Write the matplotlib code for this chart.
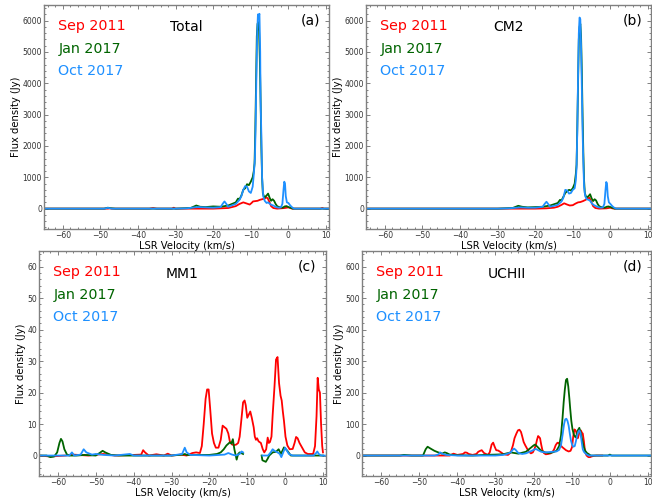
import numpy as np
import matplotlib
matplotlib.use("Agg")
import matplotlib.pyplot as plt
from matplotlib.ticker import MultipleLocator, AutoMinorLocator

# etiquetas de las epocas y colores
epochs = ["Sep 2011", "Jan 2017", "Oct 2017"]
colors = ["red", "darkgreen", "dodgerblue"]
panel_names = ["Total", "CM2", "MM1", "UCHII"]
panel_tags = ["(a)", "(b)", "(c)", "(d)"]

# ---- (a) Total ----
tot_sep_v = [-65, -48, -47.5, -47, -37, -36, -35, -31, -30.5, -30, -20, -18, -16, -14, -13, -12, -11,
             -10.3, -9.8, -9.4, -8.8, -8.2, -7.6, -7.0, -6.3, -5.9, -5.5, -5.0, -4.6, -4, -3, -1, 0,
             0.5, 1, 8.5, 9, 9.5, 11]
tot_sep_f = [0, 0, 10, 0, 0, 20, 0, 0, 30, 0, 0, 10, 20, 80, 150, 200, 160,
             130, 180, 230, 240, 250, 280, 300, 320, 360, 330, 200, 80, 20, 0, 20, 40,
             20, 0, 0, 20, 0, 0]
tot_jan_v = [-65, -49, -48, -47.5, -46, -30, -26, -24.5, -23.5, -22, -20, -18, -17, -16, -15, -14,
             -13.4, -13, -12.5, -12, -11.5, -11, -10.5, -10, -9.5, -9.2, -9.0, -8.8, -8.6, -8.4,
             -8.2, -8.0, -7.8, -7.6, -7.4, -7.2, -7.0, -6.8, -6.4, -5.8, -5.4, -5.0, -4.6, -4.2,
             -3.8, -3.4, -3, -2.5, -1.5, -1, -0.5, 0, 0.5, 1.2, 11]
tot_jan_f = [0, 0, 30, 15, 0, 0, 20, 100, 60, 50, 70, 60, 80, 100, 150, 200,
             320, 300, 420, 600, 650, 780, 750, 860, 1000, 1200, 1450, 2500, 4000, 5500,
             5900, 5950, 5700, 4800, 3500, 2000, 1000, 500, 350, 420, 480, 350, 250, 300,
             250, 150, 80, 50, 30, 70, 80, 50, 30, 0, 0]
tot_oct_v = [-65, -49, -48, -47, -30, -27, -25, -24, -22, -20, -18, -17.5, -17, -16.5, -16, -14,
             -13, -12.5, -12, -11.5, -11, -10.5, -10, -9.5, -9.2, -8.9, -8.7, -8.5, -8.3, -8.1,
             -7.9, -7.7, -7.5, -7.4, -7.2, -7.0, -6.7, -6.3, -5.8, -5.4, -5, -4.5, -4, -3.5, -3,
             -2.5, -2, -1.6, -1.3, -1.1, -0.9, -0.7, -0.4, 0, 0.5, 1, 1.5, 11]
tot_oct_f = [0, 0, 25, 0, 0, 10, 40, 50, 40, 30, 50, 150, 230, 150, 60, 150,
             280, 400, 600, 720, 700, 550, 500, 700, 1100, 1600, 2800, 4300, 5600, 6200,
             6150, 6220, 5000, 3500, 2400, 1000, 400, 250, 180, 200, 160, 120, 100, 60, 40,
             30, 40, 150, 600, 860, 800, 400, 200, 180, 100, 40, 0, 0]

# ---- (b) CM2 ----
cm2_sep_v = [-65, -20, -17, -15, -14, -13, -12.3, -11.5, -10.8, -10, -9.3, -8.6, -8, -7.3, -6.6,
             -6.0, -5.6, -5.2, -4.6, -4, -3, -1, 0, 0.5, 1, 11]
cm2_sep_f = [0, 0, 10, 30, 60, 120, 170, 130, 100, 110, 160, 200, 210, 240, 280,
             330, 350, 250, 80, 20, 0, 10, 30, 10, 0, 0]
cm2_jan_v = [-65, -30, -26, -24.5, -23.5, -22, -20, -18, -16, -14, -13.4, -13, -12.5, -12, -11.5,
             -11, -10.5, -10, -9.5, -9.2, -9.0, -8.8, -8.6, -8.4, -8.2, -8.0, -7.8, -7.6, -7.4,
             -7.2, -7.0, -6.8, -6.4, -5.8, -5.4, -5.0, -4.6, -4.2, -3.8, -3.4, -3, -2.5, -1.5,
             -1, -0.5, 0, 0.5, 1.2, 11]
cm2_jan_f = [0, 0, 20, 90, 60, 40, 50, 60, 100, 180, 280, 260, 380, 500, 560,
             600, 580, 650, 800, 1100, 1400, 2600, 4000, 5400, 5800, 5900, 5500, 4400, 3000,
             1800, 900, 500, 350, 400, 460, 330, 240, 300, 260, 150, 80, 50, 30,
             60, 70, 50, 30, 0, 0]
cm2_oct_v = [-65, -30, -27, -25, -24, -22, -20, -18, -17.5, -17, -16.5, -16, -14, -13, -12.5, -12,
             -11.5, -11, -10.5, -10, -9.5, -9.2, -9.0, -8.8, -8.6, -8.4, -8.2, -8.0, -7.8, -7.6,
             -7.4, -7.2, -7.0, -6.7, -6.3, -5.8, -5.4, -5, -4.5, -4, -3.5, -3, -2.5, -2, -1.6,
             -1.3, -1.1, -0.9, -0.7, -0.4, 0, 0.5, 1, 1.5, 11]
cm2_oct_f = [0, 0, 10, 30, 40, 30, 30, 60, 150, 220, 140, 60, 120, 230, 350, 600,
             580, 480, 500, 600, 650, 900, 1300, 2500, 4200, 5600, 6100, 6050, 5200, 3900,
             2500, 1500, 700, 400, 300, 280, 250, 180, 120, 90, 60, 40, 30, 40, 150,
             600, 850, 800, 400, 200, 150, 80, 30, 0, 0]

# ---- (c) MM1 ----  (nan = huecos sin datos)
mm1_sep_v = [-65, -62, -58, -56, -52, -48, -45, -40, -38, -37.5, -37, -36, -34, -32, -31, -30,
             -27.5, -26, -24.5, -23.5, -22.5, -22, -21.5, -21, -20.6, -20.2, -19.8, -19.3, -18.8,
             -18.3, -17.6, -17, -16.5, -16, -15.5, -15, -14.6, -14, -13.5, -12.9, -12.4, -12,
             -11.5, -11.1, -10.7, -10.4, -10, -9.6, -9.2, -8.8, -8.3, -8, -7.7, -7.4, -7, -6.4,
             -5.9, -5.5, -5, -4.6, -4.3, -4, -3.6, -3.3, -2.8, -2.4, -2.0, -1.6, -1.2, -0.9,
             -0.6, -0.3, 0.1, 0.6, 1.2, 2, 2.5, 2.9, 3.3, 3.8, 4.5, 5.2, 6, 7.4, 7.9, 8.3, 8.6,
             8.9, 9.2, 9.5, 9.8, 10]
mm1_sep_f = [0, -0.3, 0, 0.3, 0, 0.5, 0, 0.2, 0.3, 1.7, 1, 0, 0.4, 0, 0.6, 0,
             0.3, 0, 0.8, 1, 0.8, 3, 10, 18, 21, 21, 15, 7, 4,
             2.5, 2.5, 5, 9.5, 9, 8.5, 7, 4.5, 3.5, 3.3, 3.5, 4, 6,
             12, 16.9, 17.5, 16, 12, 13, 14, 12, 9, 6, 5, 5.5, 4.5, 4,
             2, 1, 2, 5.7, 4, 4.3, 6, 12.6, 22, 30.5, 31.3, 23, 19, 17.5,
             14, 11, 6, 3.2, 2, 2.1, 4, 5.9, 5.5, 4, 2.5, 1, 0.5, 0.5, 3, 12.5, 24.7,
             21, 20, 10, 3, 1]
mm1_jan_v = [-65, -63, -62, -61, -60.2, -59.6, -59.2, -58.8, -58.3, -57.6, -57, -55, -53, -50,
             -49, -48.2, -47.5, -46, -44, -30, -27, -26.5, -26, -20, -18, -17, -16.2, -15.5,
             -14.6, -14.2, -13.8, -13.4, -12.8, -12.4, -12.0, -11.1, np.nan, -6.2, -6.0, -5.1,
             -4.6, -4.2, -3.3, -2.4, -1.7, -1.1, -0.3, 0.2, 0.6, 1.5, 10]
mm1_jan_f = [0, 0, -0.5, -0.3, 1, 4, 5.3, 4.5, 2, 0.3, 0, 0, 0.2, 0,
             0.8, 1.5, 1, 0.2, 0, 0, 0.3, 0.5, 0.2, 0.2, 0.5, 1, 2, 3.2,
             4.2, 3.8, 5.2, 2, -1.3, 0.5, 1, 0.5, np.nan, 0, -1.5, -2,
             -1, 0, 1, 1.2, 2, 0.5, 2.6, 2, 1.5, 0, 0]
mm1_oct_v = [-65, -57, -56.3, -55.7, -54, -53.2, -52.5, -51, -50, -48, -45, -41, -40, -30, -27.2,
             -26.5, -26, -25, -20, -16, -15, -14, -13, -12, -11.5, -11.1, np.nan, -6.0, -4.5,
             -3.8, -3.3, -2.8, -2, -1.4, -1, -0.5, 0, 0.5, 1, 2, 7.5, 8.2, 8.5, 8.9, 9.5, 10.5]
mm1_oct_f = [0, 0, 1, 0, 0.3, 2, 1, 0.3, 0.5, 0.2, 0, 0.5, 0, 0, 0.5,
             2.5, 1, 0.2, 0, 0.3, 0.8, 0.3, 0, 0.5, 1.3, 1, np.nan, 0, 0,
             1, 2, 1.5, 1, 0.5, -0.5, 1, 2.5, 1.5, 0.5, 0, 0, 0.8, 1.3, 0.5, 0, 0]

# ---- (d) UCHII ----
uch_sep_v = [-65, -42, -41, -40.5, -40, -38.5, -38, -37.5, -37, -36, -35, -34.5, -34, -33.6, -33,
             -32, -31.5, -31, -30.6, -30.2, -29.8, -29.3, -28.9, -28.4, -28, -27.3, -26.7, -26,
             -25.4, -25, -24.5, -24.1, -23.7, -23.3, -23, -22.6, -22.2, -21.7, -21.2, -20.7,
             -20.2, -19.8, -19.4, -19.1, -18.8, -18.5, -18.3, -18, -17.7, -17.3, -16.8, -16.2,
             -15.5, -15, -14.6, -14.2, -13.8, -13.6, -13.2, -12.9, -12.5, -12.0, -11.5, -10.8,
             -10.3, -9.9, -9.6, -9.3, -9.0, -8.8, -8.6, -8.4, -8.1, -7.8, -7.6, -7.3, -7.1, -6.8,
             -6.5, -6.1, -5.6, -5.2, -4.8, -4.2, -3.5, -2]
uch_sep_f = [0, 0, 6, 4, 2, 5, 10, 9, 5, 2, 5, 12, 15, 17, 8,
             2, 10, 35, 41, 28, 17, 16, 13, 9, 5, 3, 2, 10,
             33, 55, 70, 80, 82, 75, 62, 43, 33, 22, 12, 7,
             10, 20, 34, 50, 62, 58, 55, 35, 18, 8, 4, 5,
             7, 12, 20, 33, 40, 41, 38, 33, 27, 22, 17, 13,
             15, 27, 60, 83, 80, 75, 62, 55, 68, 78, 80, 72, 70, 45,
             12, 0, -5, -5, -3, -1, 0, 0]
uch_jan_v = [-65, -55, -54, -52, -49, -48.3, -47.8, -47, -46, -45, -44, -43.3, -42.8, -42, -40, -36,
             -33, -30, -28, -27, -26, -25, -24, -22, -21, -20, -19.6, -19, -18, -17, -16, -15,
             -14, -13.3, -12.8, -12.4, -12.1, -11.8, -11.5, -11.2, -10.9, -10.6, -10.4, -10.1,
             -9.8, -9.4, -9.0, -8.7, -8.4, -8.0, -7.7, -7.3, -6.9, -6.5, -6, -5.6, -5, -0.5, 0,
             0.5, 11]
uch_jan_f = [0, 0, 2, 0, 0, 20, 28, 22, 15, 10, 6, 10, 8, 3, 1, 0,
             2, 3, 4, 7, 10, 8, 6, 12, 22, 32, 35, 28, 15, 10, 8, 10,
             15, 30, 64, 120, 170, 210, 240, 244, 220, 180, 150, 110,
             84, 65, 58, 65, 80, 88, 75, 53, 30, 16, 8, 5, 0, 0, 3,
             0, 0]
uch_oct_v = [-65, -46, -45, -44.5, -44, -43, -40, -30, -28, -27, -26, -25.5, -25.1, -24.7, -24,
             -23, -22, -21, -20, -19.4, -18.8, -18, -17, -16, -15, -14, -13.3, -12.8, -12.4,
             -12.0, -11.7, -11.4, -11.1, -10.8, -10.5, -10.2, -9.9, -9.6, -9.2, -8.9, -8.6, -8.3,
             -8.0, -7.7, -7.4, -7.1, -6.8, -6.5, -6, -5.5, 11]
uch_oct_f = [0, 0, 3, 10, 6, 2, 0, 0, 2, 5, 10, 18, 22, 18, 8,
             5, 7, 12, 18, 21, 17, 12, 10, 11, 12, 13, 18, 33, 65,
             100, 115, 117, 110, 95, 70, 48, 35, 28, 30, 45, 62, 75,
             80, 72, 45, 20, 12, 8, 3, 0, 0]

series = [
    [(tot_sep_v, tot_sep_f), (tot_jan_v, tot_jan_f), (tot_oct_v, tot_oct_f)],
    [(cm2_sep_v, cm2_sep_f), (cm2_jan_v, cm2_jan_f), (cm2_oct_v, cm2_oct_f)],
    [(mm1_sep_v, mm1_sep_f), (mm1_jan_v, mm1_jan_f), (mm1_oct_v, mm1_oct_f)],
    [(uch_sep_v, uch_sep_f), (uch_jan_v, uch_jan_f), (uch_oct_v, uch_oct_f)],
]
ymax = [6500, 6500, 65, 650]
ystep = [1000, 1000, 10, 100]

# posiciones de los ejes en pixeles (izq, der, arriba, abajo)
W, H = 652, 500
boxes = [(44, 329, 5, 229), (366, 651, 5, 229), (39, 326, 251, 476), (362, 651, 251, 476)]

fig = plt.figure(figsize=(W / 100, H / 100), dpi=100)
for k in range(4):
    l, r, t, b = boxes[k]
    ax = fig.add_axes([l / W, 1 - b / H, (r - l) / W, (b - t) / H])
    for (v, f), c in zip(series[k], colors):
        ax.plot(v, f, color=c, lw=1.3)
    ax.set_xlim(-65, 10.8)
    ax.set_ylim(-0.1 * ymax[k], ymax[k])
    ax.xaxis.set_major_locator(MultipleLocator(10))
    ax.yaxis.set_major_locator(MultipleLocator(ystep[k]))
    ax.xaxis.set_minor_locator(AutoMinorLocator(5))
    ax.yaxis.set_minor_locator(AutoMinorLocator(5))
    ax.tick_params(which='both', direction='in', top=True, right=True, colors='0.5',
                   labelcolor='0.2', labelsize=5.5, width=0.7, pad=1.5)
    ax.tick_params(which='major', length=3)
    ax.tick_params(which='minor', length=1.5)
    for s in ax.spines.values():
        s.set_color('0.5')
        s.set_linewidth(1)
    ax.set_xlabel("LSR Velocity (km/s)", fontsize=7.2, labelpad=0.5)
    ax.set_ylabel("Flux density (Jy)", fontsize=7.2, labelpad=1)
    for i, (txt, c) in enumerate(zip(epochs, colors)):
        ax.text(0.05, 0.905 - 0.1 * i, txt, color=c, fontsize=10.3,
                transform=ax.transAxes, va='center', ha='left')
    ax.text(0.5, 0.9, panel_names[k], fontsize=10, transform=ax.transAxes, va='center', ha='center')
    ax.text(0.935, 0.93, panel_tags[k], fontsize=10, transform=ax.transAxes, va='center', ha='center')

fig.savefig("out.png", dpi=100)
